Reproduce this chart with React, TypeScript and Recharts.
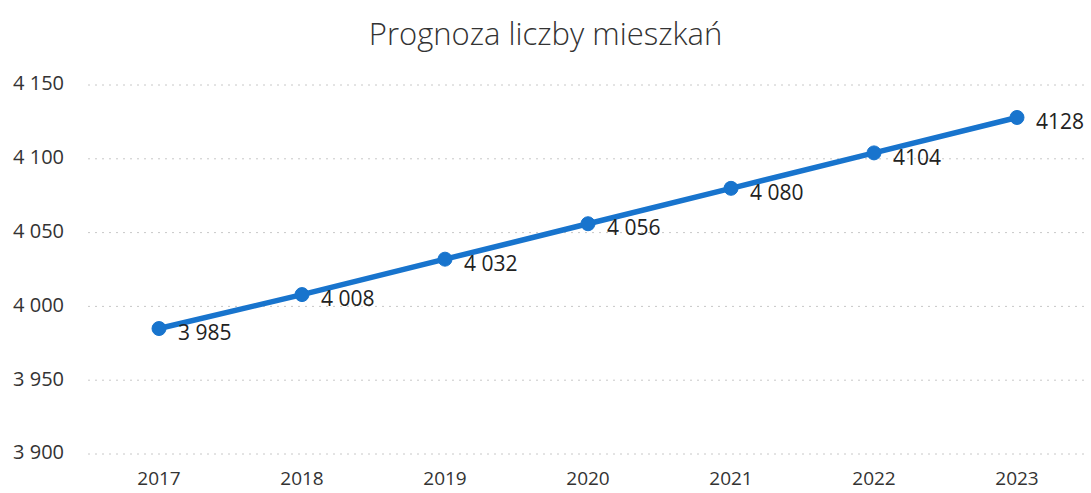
import React from 'react';
import { LineChart, Line, XAxis, YAxis, CartesianGrid, LabelList } from 'recharts';

const years = ['2017', '2018', '2019', '2020', '2021', '2022', '2023'];
const flats = [3985, 4008, 4032, 4056, 4080, 4104, 4128];
const flatLabels = ['3 985', '4 008', '4 032', '4 056', '4 080', '4104', '4128'];
const yTicks = [3900, 3950, 4000, 4050, 4100, 4150];

const data = years.map((year, i) => ({ year, value: flats[i], label: flatLabels[i] }));

const FONT = '"Open Sans", "Noto Sans", sans-serif';

const fmtThousands = (v: number) => {
  const s = String(v);
  return s.length > 3 ? s.slice(0, s.length - 3) + ' ' + s.slice(-3) : s;
};

const PointLabel = (props: any) => {
  const { x, y, value } = props;
  return (
    <text x={x + 19} y={y + 6} fontSize={21} fill="#222" fontFamily={FONT} dominantBaseline="middle">
      {value}
    </text>
  );
};

const YTick = (props: any) => {
  const { y, payload } = props;
  return (
    <text x={64} y={y} textAnchor="end" dominantBaseline="middle" fontSize={20} fill="#333" fontFamily={FONT}>
      {fmtThousands(payload.value)}
    </text>
  );
};

const App: React.FC = () => {
  return (
    <div style={{ position: 'absolute', left: 0, top: 0, width: 1091, height: 493, background: '#fff' }}>
      <div
        style={{
          position: 'absolute',
          top: 12,
          width: '100%',
          textAlign: 'center',
          fontFamily: FONT,
          fontWeight: 300,
          fontSize: 31,
          color: '#333',
        }}
      >
        Prognoza liczby mieszkań
      </div>
      <LineChart width={1091} height={493} data={data} margin={{ top: 85, right: 3, bottom: 9, left: 0 }}>
        <CartesianGrid vertical={false} stroke="#c8c8c8" strokeDasharray="2 5" />
        <XAxis
          dataKey="year"
          axisLine={false}
          tickLine={false}
          padding={{ left: 71, right: 71 }}
          tick={{ fontSize: 19, fill: '#333', fontFamily: FONT }}
          dy={10}
        />
        <YAxis
          domain={[3900, 4150]}
          ticks={yTicks}
          width={88}
          axisLine={false}
          tickLine={false}
          tick={<YTick />}
        />
        <Line
          type="linear"
          dataKey="value"
          stroke="#1874cd"
          strokeWidth={5.5}
          dot={{ r: 7, fill: '#1874cd', stroke: '#1874cd', strokeWidth: 1 }}
          isAnimationActive={false}
        >
          <LabelList dataKey="label" content={<PointLabel />} />
        </Line>
      </LineChart>
    </div>
  );
};

export default App;
